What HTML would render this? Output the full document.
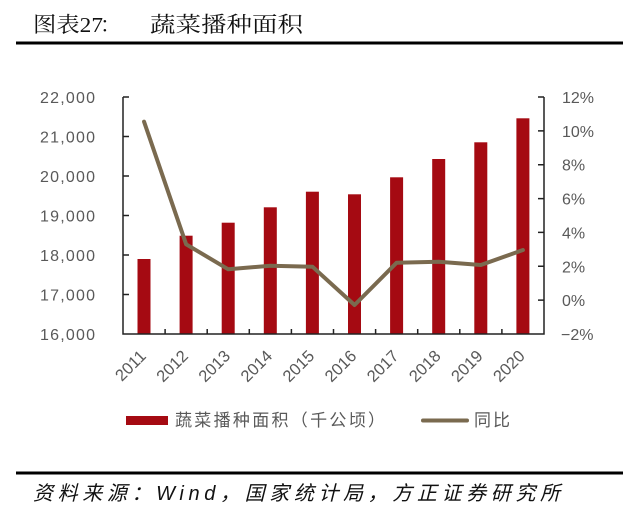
<!DOCTYPE html>
<html><head><meta charset="utf-8"><style>
html,body{margin:0;padding:0;background:#fff;}
svg{display:block;}
</style></head><body>
<svg width="641" height="527" viewBox="0 0 641 527" xmlns="http://www.w3.org/2000/svg">
<rect width="641" height="527" fill="#fff"/>
<!-- title -->
<text x="33" y="32" font-family="'Liberation Serif','Noto Serif CJK SC',serif" font-size="21.5" fill="#111" textLength="70" lengthAdjust="spacingAndGlyphs">图表27</text>
<text x="100" y="32" font-family="'Noto Serif CJK SC',serif" font-size="21" fill="#111">：</text>
<text x="150" y="32" font-family="'Liberation Serif','Noto Serif CJK SC',serif" font-size="21.5" fill="#111" textLength="153" lengthAdjust="spacingAndGlyphs">蔬菜播种面积</text>
<rect x="16" y="41.5" width="607" height="3" fill="#000"/>

<!-- bars -->
<g fill="#a50a12">
<rect x="137.5" y="259" width="13" height="75"/>
<rect x="179.6" y="235.7" width="13" height="98.3"/>
<rect x="221.7" y="222.7" width="13" height="111.3"/>
<rect x="263.8" y="207.3" width="13" height="126.7"/>
<rect x="305.9" y="191.7" width="13" height="142.3"/>
<rect x="348" y="194.3" width="13" height="139.7"/>
<rect x="390.1" y="177.3" width="13" height="156.7"/>
<rect x="432.2" y="159" width="13" height="175"/>
<rect x="474.3" y="142.3" width="13" height="191.7"/>
<rect x="516.4" y="118.3" width="13" height="215.7"/>
</g>

<!-- axes -->
<g stroke="#222" stroke-width="1.5" fill="none">
<path d="M123 97 V334 H544 V97"/>
<path d="M123 97 h6 M123 136.5 h6 M123 176 h6 M123 215.5 h6 M123 255 h6 M123 294.5 h6"/>
<path d="M544 97 h-6 M544 130.9 h-6 M544 164.7 h-6 M544 198.6 h-6 M544 232.4 h-6 M544 266.3 h-6 M544 300.1 h-6"/>
<path d="M165.1 334 v-5 M207.2 334 v-5 M249.3 334 v-5 M291.4 334 v-5 M333.5 334 v-5 M375.6 334 v-5 M417.7 334 v-5 M459.8 334 v-5 M501.9 334 v-5"/>
</g>

<!-- line -->
<polyline fill="none" stroke="#7a6a4f" stroke-width="4" stroke-linejoin="round" stroke-linecap="round"
 points="144.05,121.7 186.15,244.3 228.25,269.3 270.35,265.7 312.45,266.7 354.55,305 396.65,262.7 438.75,261.7 480.85,265 522.95,250"/>

<!-- left labels -->
<g font-family="'Liberation Sans',sans-serif" font-size="16" fill="#595959">
<text x="40" y="103" textLength="55" lengthAdjust="spacing">22,000</text>
<text x="40" y="142.5" textLength="55" lengthAdjust="spacing">21,000</text>
<text x="40" y="182" textLength="55" lengthAdjust="spacing">20,000</text>
<text x="40" y="221.5" textLength="55" lengthAdjust="spacing">19,000</text>
<text x="40" y="261" textLength="55" lengthAdjust="spacing">18,000</text>
<text x="40" y="300.5" textLength="55" lengthAdjust="spacing">17,000</text>
<text x="40" y="340" textLength="55" lengthAdjust="spacing">16,000</text>
</g>
<!-- right labels -->
<g font-family="'Liberation Sans',sans-serif" font-size="16" fill="#595959">
<text x="562" y="103">12%</text>
<text x="562" y="136.9">10%</text>
<text x="562" y="170.7">8%</text>
<text x="562" y="204.6">6%</text>
<text x="562" y="238.4">4%</text>
<text x="562" y="272.3">2%</text>
<text x="562" y="306.1">0%</text>
<text x="561" y="340">−2%</text>
</g>
<!-- x labels -->
<g font-family="'Liberation Sans',sans-serif" font-size="16.5" fill="#595959" text-anchor="end">
<text transform="translate(147,357) rotate(-45)">2011</text>
<text transform="translate(189.1,357) rotate(-45)">2012</text>
<text transform="translate(231.2,357) rotate(-45)">2013</text>
<text transform="translate(273.3,357) rotate(-45)">2014</text>
<text transform="translate(315.4,357) rotate(-45)">2015</text>
<text transform="translate(357.5,357) rotate(-45)">2016</text>
<text transform="translate(399.6,357) rotate(-45)">2017</text>
<text transform="translate(441.7,357) rotate(-45)">2018</text>
<text transform="translate(483.8,357) rotate(-45)">2019</text>
<text transform="translate(525.9,357) rotate(-45)">2020</text>
</g>

<!-- legend -->
<rect x="126" y="416" width="42" height="9" fill="#a50a12"/>
<text x="175" y="426" font-family="'Liberation Sans','Noto Sans CJK SC',sans-serif" font-size="17" fill="#595959" textLength="210" lengthAdjust="spacing">蔬菜播种面积（千公顷）</text>
<line x1="423" y1="420.5" x2="467" y2="420.5" stroke="#7a6a4f" stroke-width="4" stroke-linecap="round"/>
<text x="474" y="426" font-family="'Liberation Sans','Noto Sans CJK SC',sans-serif" font-size="17" fill="#595959" textLength="36" lengthAdjust="spacing">同比</text>

<!-- footer -->
<rect x="16" y="471.5" width="607" height="3" fill="#000"/>
<text x="33" y="500" font-family="'Liberation Sans','Noto Sans CJK SC',sans-serif" font-size="20" font-style="italic" fill="#111" textLength="527" lengthAdjust="spacing">资料来源：Wind，国家统计局，方正证券研究所</text>
</svg>
</body></html>
